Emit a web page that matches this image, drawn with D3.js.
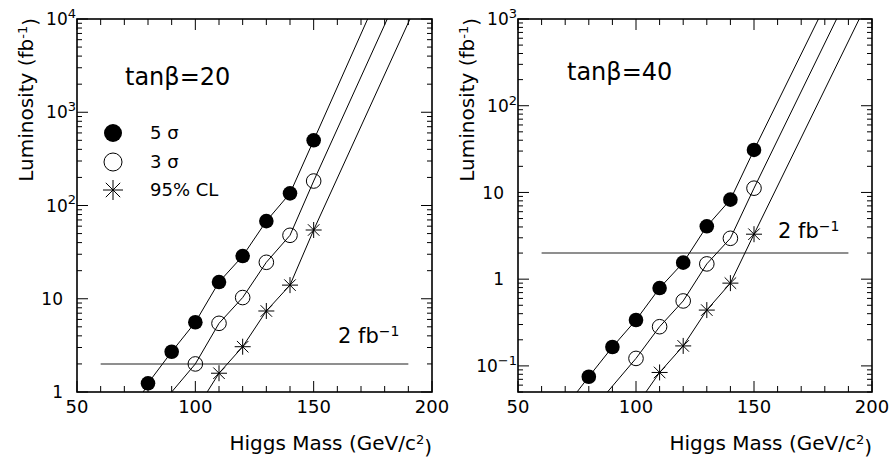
<!DOCTYPE html>
<html><head><meta charset="utf-8">
<script src="https://cdn.jsdelivr.net/npm/d3@7"></script>
<style>
html,body{margin:0;padding:0;background:#fff;}
svg{display:block;font-family:"DejaVu Sans",sans-serif;}
</style></head>
<body>
<svg id="chart" width="893" height="458"></svg>
<script>
// ---------- data ----------
const masses5 = [80, 90, 100, 110, 120, 130, 140, 150];
const masses3 = [100, 110, 120, 130, 140, 150];
const masses95 = [110, 120, 130, 140, 150];

const tb20_5sigma = [1.24, 2.7, 5.6, 15.1, 28.7, 68, 135, 500];
const tb20_3sigma = [2.0, 5.45, 10.3, 24.6, 47.9, 183];
const tb20_cl95   = [1.59, 3.06, 7.39, 14.0, 54.6];

const tb40_5sigma = [0.075, 0.165, 0.338, 0.79, 1.55, 4.07, 8.26, 30.9];
const tb40_3sigma = [0.122, 0.283, 0.561, 1.50, 2.96, 11.2];
const tb40_cl95   = [0.084, 0.170, 0.44, 0.90, 3.30];

// fitted-curve ends (mass, luminosity) outside the measured points
const tb20_lineStart = [[78, 1], [90, 1], [105, 1]];
const tb20_lineEnd   = [[172.8, 1e4], [181.1, 1e4], [190.7, 1e4]];
const tb40_lineStart = [[75, 0.05], [87.9, 0.05], [104.2, 0.05]];
const tb40_lineEnd   = [[177.3, 1000], [185, 1000], [194.6, 1000]];

const thresholdLumi = 2;
const thresholdRange = [60, 190];

const xDomain = [50, 200];
const xMajorTicks = [50, 100, 150, 200];
const tb20_yDomain = [1, 1e4];
const tb40_yDomain = [0.05, 1000];
const tb20_yLabels = [[1, "1", null], [10, "10", null], [100, "10", "2"], [1000, "10", "3"], [10000, "10", "4"]];
const tb40_yLabels = [[0.1, "10", "\u22121"], [1, "1", null], [10, "10", null], [100, "10", "2"], [1000, "10", "3"]];

const legendLabels = ["5 \u03c3", "3 \u03c3", "95% CL"];

// ---------- drawing ----------
const svg = d3.select("#chart");

function star(g, x, y, r) {
  const d = r * 0.72;
  const p = `M${x - r},${y}H${x + r}M${x},${y - r}V${y + r}M${x - d},${y - d}L${x + d},${y + d}M${x - d},${y + d}L${x + d},${y - d}`;
  g.append("path").attr("d", p).attr("stroke", "#000").attr("stroke-width", 1).attr("fill", "none");
}

function panel(opts) {
  const {x0, x1, y0, y1, yDomain, yLabels, s5, s3, s95, starts, ends, title, titlePos, thrText, id, legend} = opts;
  const x = d3.scaleLinear().domain(xDomain).range([x0, x1]);
  const y = d3.scaleLog().domain(yDomain).range([y1, y0]);
  const g = svg.append("g");

  g.append("clipPath").attr("id", id).append("rect")
    .attr("x", x0).attr("y", y0).attr("width", x1 - x0).attr("height", y1 - y0);

  // ticks x (bottom & top, inside)
  const xMinor = d3.range(xDomain[0], xDomain[1] + 0.1, 10);
  xMinor.forEach(v => {
    const major = xMajorTicks.includes(v);
    const L = major ? 11 : 6;
    g.append("line").attr("x1", x(v)).attr("x2", x(v)).attr("y1", y1).attr("y2", y1 - L).attr("stroke", "#000");
    g.append("line").attr("x1", x(v)).attr("x2", x(v)).attr("y1", y0).attr("y2", y0 + L).attr("stroke", "#000");
  });
  // ticks y (left & right, inside)
  y.ticks().forEach(v => {
    const lg = Math.log10(v);
    const major = Math.abs(lg - Math.round(lg)) < 1e-9;
    const L = major ? 11 : 5;
    g.append("line").attr("x1", x0).attr("x2", x0 + L).attr("y1", y(v)).attr("y2", y(v)).attr("stroke", "#000");
    g.append("line").attr("x1", x1).attr("x2", x1 - L).attr("y1", y(v)).attr("y2", y(v)).attr("stroke", "#000");
  });

  // x tick labels
  xMajorTicks.forEach(v => {
    g.append("text").attr("x", x(v)).attr("y", y1 + 21).attr("text-anchor", "middle")
      .attr("font-size", 18).text(v);
  });
  // y tick labels
  yLabels.forEach(([v, base, exp]) => {
    const t = g.append("text").attr("y", y(v)).attr("dy", "0.36em").attr("font-size", 17).attr("text-anchor", "end");
    if (exp) {
      t.attr("x", x0 - 1);
      t.append("tspan").text(base);
      t.append("tspan").attr("dy", "-0.55em").attr("font-size", 13).text(exp);
    } else {
      t.attr("x", x0 - 14).text(base);
    }
  });

  // threshold line
  g.append("line").attr("x1", x(thresholdRange[0])).attr("x2", x(thresholdRange[1]))
    .attr("y1", y(thresholdLumi)).attr("y2", y(thresholdLumi))
    .attr("stroke", "#6a6a6a").attr("stroke-width", 1.6);

  // curves
  const line = d3.line().x(d => x(d[0])).y(d => y(d[1]));
  const series = [[masses5, s5], [masses3, s3], [masses95, s95]];
  const cg = g.append("g").attr("clip-path", `url(#${id})`);
  series.forEach(([m, v], i) => {
    const pts = [starts[i]].concat(m.map((mm, j) => [mm, v[j]])).concat([ends[i]]);
    cg.append("path").attr("d", line(pts)).attr("fill", "none").attr("stroke", "#000").attr("stroke-width", 1);
  });

  // markers
  masses5.forEach((m, j) => g.append("circle").attr("cx", x(m)).attr("cy", y(s5[j])).attr("r", 7.3).attr("fill", "#000"));
  masses3.forEach((m, j) => g.append("circle").attr("cx", x(m)).attr("cy", y(s3[j])).attr("r", 7.3).attr("fill", "none").attr("stroke", "#000").attr("stroke-width", 1));
  masses95.forEach((m, j) => star(g, x(m), y(s95[j]), 8));

  // frame
  g.append("rect").attr("x", x0).attr("y", y0).attr("width", x1 - x0).attr("height", y1 - y0)
    .attr("fill", "none").attr("stroke", "#000").attr("stroke-width", 1.6);

  // title texts
  const tt = g.append("text").attr("x", titlePos[0]).attr("y", titlePos[1]).attr("font-size", 24);
  tt.append("tspan").text("tan\u03b2=" + title);

  const ft = g.append("text").attr("x", thrText[0]).attr("y", thrText[1]).attr("font-size", 21);
  ft.append("tspan").text("2 fb");
  ft.append("tspan").attr("dy", "-0.5em").attr("font-size", 14).text("\u22121");

  // axis titles
  g.append("text").attr("x", x1).attr("y", 450).attr("text-anchor", "end").attr("font-size", 20)
    .call(t => { t.append("tspan").text("Higgs Mass (GeV/c"); t.append("tspan").attr("dy", "-0.5em").attr("font-size", 13).text("2"); t.append("tspan").attr("dy", "0.5em").text(")"); });

  const yt = g.append("text").attr("transform", `translate(${x0 - 44},18) rotate(-90)`)
    .attr("text-anchor", "end").attr("font-size", 20);
  yt.append("tspan").text("Luminosity (fb");
  yt.append("tspan").attr("dy", "-0.5em").attr("font-size", 13).text("-1");
  yt.append("tspan").attr("dy", "0.5em").text(")");

  if (legend) {
    const lx = 113, ly = [133, 162, 190];
    g.append("circle").attr("cx", lx).attr("cy", ly[0]).attr("r", 9).attr("fill", "#000");
    g.append("circle").attr("cx", lx).attr("cy", ly[1]).attr("r", 9).attr("fill", "none").attr("stroke", "#000");
    star(g, lx, ly[2], 10);
    legendLabels.forEach((s, i) => g.append("text").attr("x", 150).attr("y", ly[i]).attr("dy", "0.36em")
      .attr("font-size", 18).text(s));
  }
}

panel({x0: 77, x1: 432, y0: 19, y1: 392, yDomain: tb20_yDomain, yLabels: tb20_yLabels,
  s5: tb20_5sigma, s3: tb20_3sigma, s95: tb20_cl95, starts: tb20_lineStart, ends: tb20_lineEnd,
  title: "20", titlePos: [125, 85], thrText: [338, 343], id: "c1", legend: true});
panel({x0: 518, x1: 872, y0: 19, y1: 392, yDomain: tb40_yDomain, yLabels: tb40_yLabels,
  s5: tb40_5sigma, s3: tb40_3sigma, s95: tb40_cl95, starts: tb40_lineStart, ends: tb40_lineEnd,
  title: "40", titlePos: [567, 80], thrText: [778, 238], id: "c2", legend: false});
</script>
</body></html>
